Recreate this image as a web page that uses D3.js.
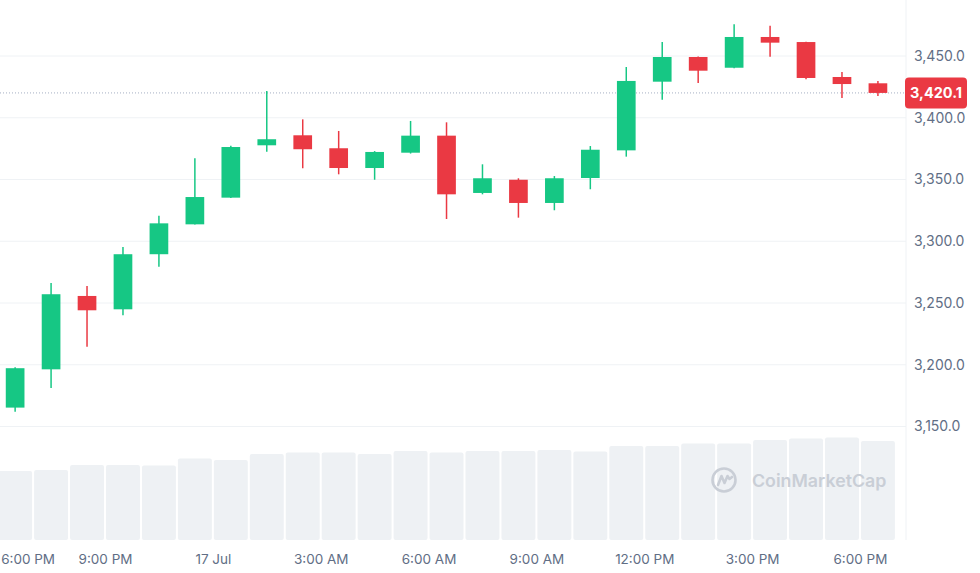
<html>
<head>
<script src="https://d3js.org/d3.v7.min.js"></script>
<style>
  body { margin: 0; background: #fff; }
  svg { font-family: Inter, "Noto Sans", sans-serif; }
</style>
</head>
<body>
<script>
// hourly candles, 16 Jul 18:00 -> 17 Jul 18:00 (UTC used as display time)
const times = [
  "2024-07-16T18:00Z", "2024-07-16T19:00Z", "2024-07-16T20:00Z", "2024-07-16T21:00Z", "2024-07-16T22:00Z",
  "2024-07-16T23:00Z", "2024-07-17T00:00Z", "2024-07-17T01:00Z", "2024-07-17T02:00Z", "2024-07-17T03:00Z",
  "2024-07-17T04:00Z", "2024-07-17T05:00Z", "2024-07-17T06:00Z", "2024-07-17T07:00Z", "2024-07-17T08:00Z",
  "2024-07-17T09:00Z", "2024-07-17T10:00Z", "2024-07-17T11:00Z", "2024-07-17T12:00Z", "2024-07-17T13:00Z",
  "2024-07-17T14:00Z", "2024-07-17T15:00Z", "2024-07-17T16:00Z", "2024-07-17T17:00Z", "2024-07-17T18:00Z"
];
const opens  = [3165.3, 3196.3, 3255.7, 3244.9, 3289.5, 3313.7, 3335.3, 3377.7, 3385.8, 3375.3, 3359.3, 3371.7, 3385.5,
                3339.1, 3349.8, 3331.0, 3351.2, 3373.6, 3429.2, 3449.2, 3440.5, 3465.4, 3461.3, 3433.0, 3427.9];
const highs  = [3198.0, 3266.2, 3263.8, 3295.4, 3320.7, 3367.2, 3377.4, 3421.7, 3398.7, 3389.3, 3373.0, 3397.4, 3396.3,
                3362.3, 3351.0, 3352.8, 3377.1, 3441.1, 3461.3, 3449.5, 3475.7, 3474.5, 3461.5, 3437.0, 3429.8];
const lows   = [3162.0, 3181.2, 3214.6, 3240.1, 3279.4, 3313.5, 3335.0, 3372.5, 3359.1, 3354.2, 3349.8, 3371.0, 3318.0,
                3338.0, 3319.1, 3325.1, 3342.1, 3368.5, 3414.6, 3428.1, 3440.0, 3449.4, 3431.1, 3416.0, 3417.6];
const closes = [3197.2, 3257.1, 3244.1, 3289.5, 3314.5, 3335.8, 3376.3, 3382.6, 3374.5, 3359.3, 3372.3, 3385.5, 3338.0,
                3351.0, 3331.0, 3351.0, 3374.1, 3429.8, 3449.2, 3438.1, 3465.4, 3460.8, 3432.2, 3427.3, 3420.1];
// volume, billions
const volumes = [13.8, 14.0, 15.0, 15.0, 14.9, 16.3, 16.0, 17.2, 17.5, 17.5, 17.2, 17.8, 17.5,
                 17.8, 17.8, 18.0, 17.7, 18.8, 18.8, 19.3, 19.3, 20.0, 20.3, 20.5, 19.8];
const priceTicks = [3150, 3200, 3250, 3300, 3350, 3400, 3450];
const timeTicks = ["2024-07-16T18:00Z", "2024-07-16T21:00Z", "2024-07-17T00:00Z", "2024-07-17T03:00Z", "2024-07-17T06:00Z",
                   "2024-07-17T09:00Z", "2024-07-17T12:00Z", "2024-07-17T15:00Z", "2024-07-17T18:00Z"];
const lastPrice = 3420.1;

const width = 980, height = 573;
const plotRight = 906, plotBottom = 540;
const green = "#16c784", red = "#ea3943";
const HOUR = 3600 * 1000;

const data = times.map((t, i) => ({
  t: new Date(t), o: opens[i], h: highs[i], l: lows[i], c: closes[i], v: volumes[i]
}));

const x = d3.scaleUtc()
  .domain([new Date("2024-07-16T18:00Z"), new Date("2024-07-17T19:00Z")])
  .range([-2.85, -2.85 + 25 * 35.95]);
const y = d3.scaleLinear().domain([3150, 3450]).range([426.5, 56]);
const yVol = d3.scaleLinear().domain([0, 22]).range([plotBottom, 430]);
const step = x(new Date(+data[0].t + HOUR)) - x(data[0].t);
const cx = d => x(new Date(+d.t + HOUR / 2));

const svg = d3.select("body").append("svg")
  .attr("width", width)
  .attr("height", height);

// grid
svg.append("g")
  .selectAll("line")
  .data(priceTicks)
  .enter()
  .append("line")
  .attr("x1", 0).attr("x2", plotRight)
  .attr("y1", d => y(d)).attr("y2", d => y(d))
  .attr("stroke", "#eff2f5")
  .attr("stroke-width", 1);

// volume bars
svg.append("g")
  .selectAll("rect")
  .data(data)
  .enter()
  .append("rect")
  .attr("x", d => cx(d) - step / 2 + 1)
  .attr("width", step - 2)
  .attr("y", d => yVol(d.v))
  .attr("height", d => plotBottom - yVol(d.v))
  .attr("rx", 2)
  .attr("fill", "#eef1f4");

// watermark
const wm = svg.append("g").attr("transform", "translate(724,480)");
wm.append("circle").attr("r", 11.5).attr("fill", "none").attr("stroke", "#c9ced6").attr("stroke-width", 2.6);
wm.append("path")
  .attr("d", "M-6,5 L-2.5,-4 L0.5,3 L3.5,-4 L5.5,-1 L8,-3")
  .attr("fill", "none").attr("stroke", "#c9ced6").attr("stroke-width", 2.6)
  .attr("stroke-linejoin", "round").attr("stroke-linecap", "round");
wm.append("text")
  .attr("x", 28).attr("y", 6.5)
  .attr("font-size", 17.8)
  .attr("font-weight", 600)
  .attr("fill", "#c9ced6")
  .text("CoinMarketCap");

// current price dotted line
svg.append("line")
  .attr("x1", 0).attr("x2", plotRight)
  .attr("y1", y(lastPrice)).attr("y2", y(lastPrice))
  .attr("stroke", "#a6b0c3")
  .attr("stroke-width", 1)
  .attr("stroke-dasharray", "1,2");

// candles
const candles = svg.append("g")
  .selectAll("g")
  .data(data)
  .enter()
  .append("g");
candles.append("line")
  .attr("x1", cx).attr("x2", cx)
  .attr("y1", d => y(d.h)).attr("y2", d => y(d.l))
  .attr("stroke", d => d.c >= d.o ? green : red)
  .attr("stroke-width", 1.5);
candles.append("rect")
  .attr("x", d => cx(d) - step * 0.26)
  .attr("width", step * 0.52)
  .attr("y", d => y(Math.max(d.o, d.c)))
  .attr("height", d => Math.max(1, Math.abs(y(d.o) - y(d.c))))
  .attr("fill", d => d.c >= d.o ? green : red);

// right border
svg.append("line")
  .attr("x1", plotRight).attr("x2", plotRight)
  .attr("y1", 0).attr("y2", plotBottom)
  .attr("stroke", "#eff2f5");

// y axis
const yAxis = svg.append("g")
  .attr("transform", `translate(${plotRight},0)`)
  .call(d3.axisRight(y).tickValues(priceTicks).tickFormat(d3.format(",.1f")).tickSize(0).tickPadding(8));
yAxis.select(".domain").remove();
yAxis.selectAll("text")
  .attr("font-family", "Inter, sans-serif")
  .attr("font-size", 14)
  .attr("fill", "#616e85");

// x axis
const xAxis = svg.append("g")
  .attr("transform", `translate(0,${plotBottom})`)
  .call(d3.axisBottom(x)
    .tickValues(timeTicks.map(t => new Date(t)))
    .tickFormat(d => d.getUTCHours() === 0 ? d3.utcFormat("%-d %b")(d) : d3.utcFormat("%-I:%M %p")(d))
    .tickSize(0).tickPadding(14));
xAxis.select(".domain").remove();
xAxis.selectAll("text")
  .attr("font-family", "Inter, sans-serif")
  .attr("font-size", 13.5)
  .attr("fill", "#616e85");
// first label is pushed into view
xAxis.selectAll("text").filter((d, i) => i === 0)
  .attr("text-anchor", "start")
  .attr("x", 3.5);

// last price tag
const tag = svg.append("g").attr("transform", `translate(${plotRight - 1},${y(lastPrice)})`);
tag.append("rect")
  .attr("x", 0).attr("y", -15.5)
  .attr("width", 62).attr("height", 31)
  .attr("rx", 4)
  .attr("fill", red);
tag.append("text")
  .attr("x", 31).attr("y", 5)
  .attr("text-anchor", "middle")
  .attr("font-size", 14.5)
  .attr("font-weight", 700)
  .attr("fill", "#fff")
  .text(d3.format(",.1f")(lastPrice));
</script>
</body>
</html>
